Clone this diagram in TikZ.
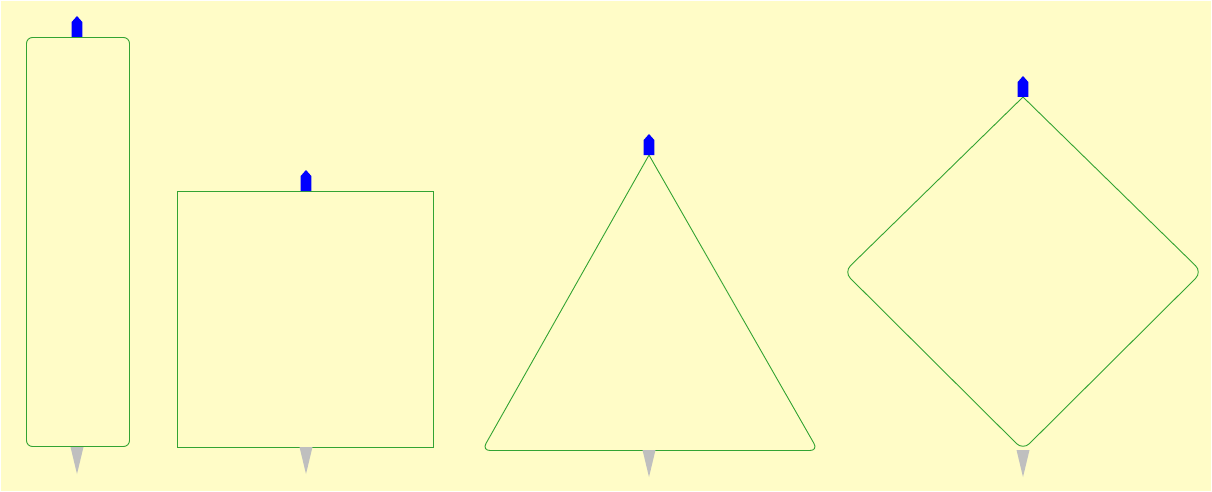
\documentclass[tikz,border=0pt]{standalone}
\begin{document}
\begin{tikzpicture}[x=1pt,y=-1pt,
  outline/.style={draw=green!55!black!80, line width=0.9pt},
  topmark/.style={fill=blue},
  botmark/.style={fill=black!25}]
\useasboundingbox (0,0) rectangle (1212,492);
\fill[white] (0,0) rectangle (1212,492);
\fill[yellow!22] (1,1) rectangle (1211,491);
% shape 1: tall rounded rectangle
\draw[outline, rounded corners=6pt] (26.5,37.5) rectangle (129.5,446.5);
% shape 2: square
\draw[outline] (177.5,191.5) rectangle (433.5,447.5);
% shape 3: triangle
\draw[outline] (649,155) [rounded corners=8pt] -- (818,450.5) -- (482,450.5) [sharp corners] -- cycle;
% shape 4: diamond
\draw[outline] (1023,97) [rounded corners=9pt] -- (1202,272) -- (1023,450) -- (844,272) [sharp corners] -- cycle;
% top markers
\foreach \x/\y in {77/37, 306/191, 649/155, 1023/97}{
  \fill[topmark] (\x-5.3,\y) -- (\x-5.3,\y-15) -- (\x,\y-21) -- (\x+5.3,\y-15) -- (\x+5.3,\y) -- cycle;
}
% bottom markers
\foreach \x/\y in {77/447, 306/447, 649/450, 1023/450}{
  \fill[botmark] (\x-6.5,\y) -- (\x+6.5,\y) -- (\x,\y+27) -- cycle;
}
\end{tikzpicture}
\end{document}
